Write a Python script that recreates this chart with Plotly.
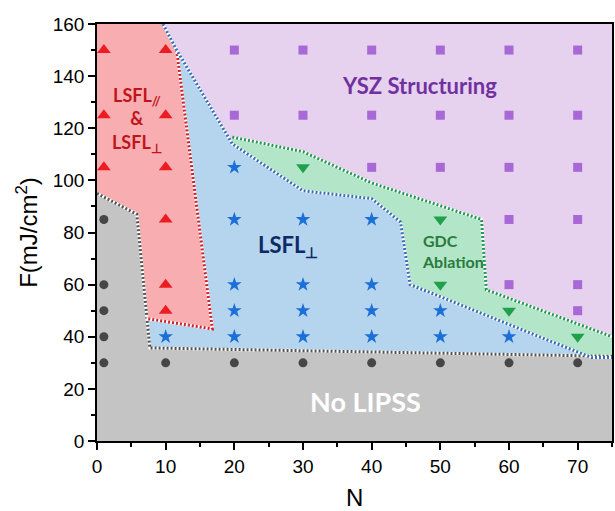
import plotly.graph_objects as go

# ---------------- data ----------------
circ_N = [1, 1, 1, 1, 1, 10, 20, 30, 40, 50, 60, 70]
circ_F = [30, 40, 50, 60, 85, 30, 30, 30, 30, 30, 30, 30]

tri_N = [1, 1, 1, 10, 10, 10, 10, 10, 10]
tri_F = [150, 125, 105, 150, 125, 105, 85, 60, 50]

star_N = [10, 20, 20, 20, 20, 20, 30, 30, 30, 30, 40, 40, 40, 40, 50, 50, 60]
star_F = [40, 105, 85, 60, 50, 40, 85, 60, 50, 40, 85, 60, 50, 40, 50, 40, 40]

gdc_N = [30, 50, 50, 60, 70]
gdc_F = [105, 85, 60, 50, 40]

sq_N = [20, 30, 40, 50, 60, 70, 20, 30, 40, 50, 60, 70, 40, 50, 60, 70, 60, 70, 60, 70, 70]
sq_F = [150, 150, 150, 150, 150, 150, 125, 125, 125, 125, 125, 125, 105, 105, 105, 105, 85, 85, 60, 60, 50]

# region boundaries (vertices)
blue_edge_N = [9.6, 11.6, 19.7, 30, 40, 44.2, 45.6, 72, 75]
blue_edge_F = [160, 150, 114, 96, 93, 84, 60, 32, 32]
green_edge_N = [19.7, 30, 40, 56, 56.7, 75]
green_edge_F = [116.6, 111, 99, 85, 58, 40]
red_edge_N = [11.6, 16.8, 7.2]
red_edge_F = [150, 43, 47]
gray_edge_N = [0, 5.8, 7.7, 75]
gray_edge_F = [95, 87, 35.7, 32.5]

x_ticks = [0, 10, 20, 30, 40, 50, 60, 70]
y_ticks = [0, 20, 40, 60, 80, 100, 120, 140, 160]

# ---------------- colours ----------------
C_PURPLE_BG = "#e6d1ee"
C_BLUE_BG = "#b5d4ee"
C_GREEN_BG = "#b3e5c9"
C_RED_BG = "#f8aeb1"
C_GRAY_BG = "#c4c4c4"

fig = go.Figure()

def poly(xs, ys, color):
    fig.add_trace(go.Scatter(x=xs, y=ys, fill="toself", fillcolor=color, mode="none",
                             hoverinfo="skip", showlegend=False))

# blue region (drawn first, others layered above)
poly([0] + blue_edge_N + [75, 0], [160] + blue_edge_F + [0, 0], C_BLUE_BG)
# green region
poly(green_edge_N + blue_edge_N[2:][::-1], green_edge_F + blue_edge_F[2:][::-1], C_GREEN_BG)
# red region
poly([0] + blue_edge_N[:2] + red_edge_N[1:] + gray_edge_N[:2][::-1],
     [160] + blue_edge_F[:2] + red_edge_F[1:] + gray_edge_F[:2][::-1], C_RED_BG)
# gray region
poly([0] + gray_edge_N + [75], [0] + gray_edge_F + [0], C_GRAY_BG)

def edge(xs, ys, color):
    fig.add_trace(go.Scatter(x=xs, y=ys, mode="lines", line=dict(color="white", width=3),
                             hoverinfo="skip", showlegend=False))
    fig.add_trace(go.Scatter(x=xs, y=ys, mode="lines",
                             line=dict(color=color, width=3, dash="2px,2px"),
                             hoverinfo="skip", showlegend=False))

edge(gray_edge_N, gray_edge_F, "#555555")
edge(red_edge_N, red_edge_F, "#d0202a")
edge(green_edge_N, green_edge_F, "#1f9a50")
edge(blue_edge_N, blue_edge_F, "#3a6fb8")

def pts(xs, ys, symbol, color, size):
    fig.add_trace(go.Scatter(x=xs, y=ys, mode="markers",
                             marker=dict(symbol=symbol, color=color, size=size, line=dict(width=0)),
                             showlegend=False))

pts(circ_N, circ_F, "circle", "#464646", 9)
pts(tri_N, tri_F, "triangle-up", "#ec1c24", 12)
pts(star_N, star_F, "star", "#1d6fd8", 11)
pts(gdc_N, gdc_F, "triangle-down", "#20a04c", 12)
pts(sq_N, sq_F, "square", "#a868d6", 9)

LAB = "Lato, Open Sans, sans-serif"
fig.add_annotation(x=5.8, y=123, text="LSFL<sub>//</sub><br>&amp;<br>LSFL<sub>⊥</sub>",
                   showarrow=False, font=dict(family=LAB, size=18, color="#c0141c", weight="bold"))
fig.add_annotation(x=47, y=136.5, text="YSZ Structuring", showarrow=False,
                   font=dict(family=LAB, size=22, color="#7030a0", weight="bold"))
fig.add_annotation(x=23.2, y=74.8, text="LSFL<sub>⊥</sub>", showarrow=False, xanchor="left",
                   font=dict(family=LAB, size=22, color="#0e2a66", weight="bold"))
fig.add_annotation(x=47.1, y=72.9, text="GDC<br>Ablation", showarrow=False, xanchor="left",
                   align="left", font=dict(family=LAB, size=16, color="#2a7a3a", weight="bold"))
fig.add_annotation(x=39.1, y=15, text="No LIPSS", showarrow=False,
                   font=dict(family=LAB, size=27, color="white", weight="bold"))
# x-axis title placed below tick labels (fixed position, no margin push)
fig.add_annotation(x=0.5, y=-0.136, xref="paper", yref="paper", text="N", showarrow=False,
                   yanchor="middle", font=dict(family="Liberation Sans, Arial", size=24, color="black"))

AX = dict(showgrid=False, zeroline=False, showline=True, linecolor="black", linewidth=1.5,
          mirror=True, ticks="outside", ticklen=7, tickwidth=1.5, tickcolor="black",
          tickfont=dict(family="Liberation Sans, Arial", size=19, color="black", weight="normal"))

fig.update_layout(
    width=615, height=511,
    margin=dict(l=97, r=1, t=24, b=70),
    paper_bgcolor="white", plot_bgcolor=C_PURPLE_BG,
    xaxis=dict(range=[0, 75], tickvals=x_ticks, **AX,
               minor=dict(ticks="outside", ticklen=4, tickwidth=1.5, dtick=5, tickcolor="black")),
    yaxis=dict(range=[0, 160], tickvals=y_ticks, **AX,
               minor=dict(ticks="outside", ticklen=4, tickwidth=1.5, dtick=10, tickcolor="black"),
               title=dict(text="F(mJ/cm<sup>2</sup>)",
                          font=dict(family="Liberation Sans, Arial", size=24, color="black"),
                          standoff=8)),
)

fig.write_html("out.html")
